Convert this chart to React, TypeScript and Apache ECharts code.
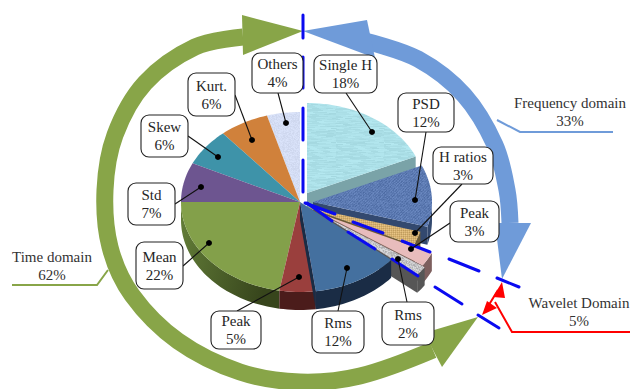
import React, { useEffect, useRef } from "react";
import * as echarts from "echarts";

// Feature shares, clockwise from twelve o'clock
const sliceNames = ["Single H", "PSD", "H ratios", "Peak", "Rms", "Rms", "Peak", "Mean", "Std", "Skew", "Kurt.", "Others"];
const sliceValues = [18, 12, 3, 3, 2, 12, 5, 22, 7, 6, 6, 4];

// Domain totals
const domainNames = ["Time domain", "Frequency domain", "Wavelet Domain"];
const domainValues = [62, 33, 5];

const W = 633;
const H = 389;
const CX = 300;
const CY = 202;
const RX = 119;
const RY = 90;
const DEPTH = 18;
const SERIF = "'Liberation Serif', 'Times New Roman', serif";

// Perspective of the tilted disc: value angle -> drawn angle
const warpIn = [0, 64.8, 108, 136.8, 198, 302, 360];
const warpOut = [0, 66, 106, 130, 190, 295, 360];

// Slice explode offsets
const sliceOffset: number[][] = [[7, -9], [13, 0], [6, 5], [24, 13], [26, 15], [0, 0], [0, 0], [0, 0], [0, 0], [0, 0], [0, 0], [0, 0]];
const sliceZ = [10, 11, 12, 13, 14, 26, 25, 24, 23, 22, 21, 20];
const wallColors = ["#7aa3a8", "#33496f", "#6d5a33", "#7d5f5e", "#565656", "#1a2c45", "#4b1c1b", "", "#4d3d69", "#2b6b7b", "#96602a", "#a9b2c6"];

type Texture = { base: number[]; kind: string; amp: number };
const hash = (x: number, y: number) => {
  const s = Math.sin(x * 12.9898 + y * 78.233) * 43758.5453;
  return s - Math.floor(s);
};
function makeTexture({ base, kind, amp }: Texture) {
  const size = 48;
  const c = document.createElement("canvas");
  c.width = size;
  c.height = size;
  const ctx = c.getContext("2d")!;
  const img = ctx.createImageData(size, size);
  for (let y = 0; y < size; y++) {
    for (let x = 0; x < size; x++) {
      let n = hash(x, y) - 0.5;
      if (kind === "water") n = hash(Math.floor((x + y * 5) / 7), y) - 0.5;
      if (kind === "weave") n = (x % 2 === 0 ? 0.3 : -0.2) + (y % 2 === 0 ? -0.3 : 0.2) + n * 0.3;
      if (kind === "denim") n = n * 0.7 + (((x + y) % 3) - 1) * 0.2;
      const p = (y * size + x) * 4;
      img.data[p] = base[0] + n * amp;
      img.data[p + 1] = base[1] + n * amp;
      img.data[p + 2] = base[2] + n * amp;
      img.data[p + 3] = 255;
    }
  }
  ctx.putImageData(img, 0, 0);
  return c;
}

const warp = (deg: number) => {
  for (let i = 1; i < warpIn.length; i++) {
    if (deg <= warpIn[i]) {
      const t = (deg - warpIn[i - 1]) / (warpIn[i] - warpIn[i - 1]);
      return warpOut[i - 1] + t * (warpOut[i] - warpOut[i - 1]);
    }
  }
  return 360;
};

const rim = (deg: number, ox: number, oy: number, dz = 0) => {
  const a = (deg * Math.PI) / 180;
  return [CX + ox + RX * Math.sin(a), CY + oy - RY * Math.cos(a) + dz];
};

const arcPoints = (from: number, to: number, ox: number, oy: number, dz = 0) => {
  const pts: number[][] = [];
  const steps = Math.max(2, Math.ceil((to - from) / 2));
  for (let k = 0; k <= steps; k++) pts.push(rim(from + ((to - from) * k) / steps, ox, oy, dz));
  return pts;
};

// Label boxes [x0, y0, x1, y1], dot on the slice, and where the leader meets the box
const boxes = [
  [314, 55, 377, 93], [398, 93, 454, 132], [433, 147, 493, 184], [450, 201, 499, 242], [382, 302, 434, 345], [312, 311, 364, 353],
  [211, 311, 261, 349], [136, 242, 183, 289], [128, 183, 175, 225], [141, 115, 188, 157], [188, 73, 235, 116], [252, 53, 303, 93],
];
const dots = [
  [372, 132], [415, 200], [415, 233], [411, 249], [398, 259], [347, 268], [299, 277], [209, 243], [201, 187], [218, 157], [252, 140], [286, 123],
];
const anchors = [
  [346, 93], [426, 132], [462, 184], [450, 223], [407, 302], [338, 311], [237, 311], [183, 266], [175, 204], [188, 136], [235, 95], [278, 93],
];

// Dashed domain boundaries, as [x0, y0, x1, y1]
const boundaryDashes = [
  [303, 15, 303, 38], [303, 57, 303, 88], [303, 108, 303, 140], [303, 160, 303, 192],
  [305, 203, 335, 214], [353, 222, 383, 233], [402, 241, 430, 252], [449, 259, 479, 271], [497, 278, 519, 287],
  [307, 203, 332, 221], [348, 232, 375, 249], [392, 259, 418, 276], [435, 287, 462, 304], [478, 315, 499, 328],
];

const greenArc = [[243, 37], [195, 47], [145, 83], [115, 135], [105, 190], [110, 247], [132, 295], [178, 341], [240, 372], [300, 382], [360, 376], [433, 350]];
const blueArc = [[365, 41], [418, 59], [464, 95], [495, 145], [507, 190], [510, 223]];
const greenHeads = [[[303, 31], [242, 15], [243, 55]], [[478, 317], [442, 367], [424, 333]]];
const blueHeads = [[[303, 31], [367, 20], [375, 58]], [[502, 279], [495, 223], [531, 223]]];

const GREEN = "#88a548";
const BLUE = "#6f9bd9";
const TEXT = "#262626";

export default function App() {
  const ref = useRef<HTMLDivElement>(null);
  useEffect(() => {
    const chart = echarts.init(ref.current!, null, { renderer: "svg" });

    const pattern = (t: Texture) => ({ image: makeTexture(t), repeat: "repeat" });
    const topFills: any[] = [
      pattern({ base: [172, 224, 232], kind: "water", amp: 16 }),
      pattern({ base: [92, 122, 178], kind: "denim", amp: 30 }),
      pattern({ base: [212, 176, 112], kind: "weave", amp: 34 }),
      "#e8bcbc",
      pattern({ base: [196, 196, 198], kind: "noise", amp: 50 }),
      "#44709f",
      "#9a3f3d",
      "#83a04a",
      "#6d5590",
      "#3e93a9",
      "#d0813b",
      pattern({ base: [212, 221, 244], kind: "noise", amp: 14 }),
    ];
    const mainWall = new echarts.graphic.LinearGradient(0, 0, 1, 0.3, [
      { offset: 0, color: "#647f39" },
      { offset: 1, color: "#37451c" },
    ]);

    const starts: number[] = [];
    let running = 0;
    sliceValues.forEach((v) => {
      starts.push(running);
      running += v;
    });

    const renderItem = (params: any, api: any) => {
      const i = params.dataIndex;
      const share = api.value(0);
      const start = warp((starts[i] / 100) * 360);
      const end = warp(((starts[i] + share) / 100) * 360);
      const [ox, oy] = sliceOffset[i];
      const z = sliceZ[i];
      const wall = i === 7 ? mainWall : wallColors[i];
      const children: any[] = [];
      const apex = [CX + ox, CY + oy];

      // Cut face on the clockwise edge, seen while the edge points at the viewer
      if (end > 0 && end < 180) {
        const e = rim(end, ox, oy);
        children.push({
          type: "polygon",
          z2: z,
          shape: { points: [apex, e, [e[0], e[1] + DEPTH], [apex[0], apex[1] + DEPTH]] },
          style: { fill: wallColors[i] },
        });
      }
      // Outer wall for the near half of the rim
      const a = Math.max(start, 90);
      const b = Math.min(end, 270);
      if (b > a) {
        const topEdge = arcPoints(a, b, ox, oy);
        const lowEdge = arcPoints(a, b, ox, oy, DEPTH).reverse();
        children.push({
          type: "polygon",
          z2: z,
          shape: { points: topEdge.concat(lowEdge) },
          style: { fill: wall },
        });
      }
      // Top face
      children.push({
        type: "polygon",
        z2: z + 0.5,
        shape: { points: [apex].concat(arcPoints(start, end, ox, oy)) },
        style: { fill: topFills[i] },
      });
      return { type: "group", children };
    };

    const line = (s: number[][], color: string, lineWidth: number, z: number) => ({
      type: "polyline",
      z,
      silent: true,
      shape: { points: s },
      style: { stroke: color, lineWidth, fill: "none" },
    });
    const poly = (pts: number[][], fill: string, z: number) => ({
      type: "polygon",
      z,
      silent: true,
      shape: { points: pts },
      style: { fill },
    });

    const elements: any[] = [];
    elements.push({
      type: "polyline", z: 1, silent: true,
      shape: { points: greenArc, smooth: 0.35 },
      style: { stroke: GREEN, lineWidth: 17, fill: "none" },
    });
    elements.push({
      type: "polyline", z: 1, silent: true,
      shape: { points: blueArc, smooth: 0.35 },
      style: { stroke: BLUE, lineWidth: 17, fill: "none" },
    });
    greenHeads.forEach((h) => elements.push(poly(h, GREEN, 1)));
    blueHeads.forEach((h) => elements.push(poly(h, BLUE, 1)));

    // Leaders from each domain caption to its arc
    elements.push(line([[108, 270], [97, 285], [12, 285]], GREEN, 2, 1));
    elements.push(line([[497, 120], [520, 132], [613, 132]], BLUE, 2, 1));
    elements.push(line([[495, 302], [512, 332], [630, 332]], "#ff0000", 2, 12));

    // Double-headed span of the wavelet share
    elements.push(line([[498, 290], [487, 308]], "#ff0000", 2, 12));
    elements.push(poly([[502, 282], [493, 297], [505, 298]], "#ff0000", 12));
    elements.push(poly([[482, 315], [487, 301], [497, 308]], "#ff0000", 12));

    boundaryDashes.forEach(([x0, y0, x1, y1]) =>
      elements.push({
        type: "line", z: 11, silent: true,
        shape: { x1: x0, y1: y0, x2: x1, y2: y1 },
        style: { stroke: "#0a0af0", lineWidth: 3, lineCap: "round" },
      })
    );

    // Label boxes with their leaders
    sliceNames.forEach((name, i) => {
      const [x0, y0, x1, y1] = boxes[i];
      elements.push(line([dots[i], anchors[i]], "#111111", 1.1, 13));
      elements.push({
        type: "circle", z: 13, silent: true,
        shape: { cx: dots[i][0], cy: dots[i][1], r: 3 },
        style: { fill: "#000000" },
      });
      elements.push({
        type: "rect", z: 14, silent: true,
        shape: { x: x0, y: y0, width: x1 - x0, height: y1 - y0, r: 8 },
        style: { fill: "#ffffff", stroke: "#222222", lineWidth: 1.1 },
      });
      elements.push({
        type: "text", z: 15, silent: true,
        x: (x0 + x1) / 2,
        y: (y0 + y1) / 2,
        style: {
          text: `${name}\n${sliceValues[i]}%`,
          fontFamily: SERIF,
          fontSize: 15,
          lineHeight: 18,
          fill: TEXT,
          align: "center",
          verticalAlign: "middle",
        },
      });
    });

    // Domain captions
    const captionAt = [[52, 266], [570, 112], [579, 312]];
    domainNames.forEach((name, i) => {
      elements.push({
        type: "text", z: 15, silent: true,
        x: captionAt[i][0],
        y: captionAt[i][1],
        style: {
          text: `${name}\n${domainValues[i]}%`,
          fontFamily: SERIF,
          fontSize: 15,
          lineHeight: 18,
          fill: "#333333",
          align: "center",
          verticalAlign: "middle",
        },
      });
    });

    chart.setOption({
      animation: false,
      backgroundColor: "#ffffff",
      graphic: { elements },
      series: [
        {
          type: "custom",
          coordinateSystem: "none",
          z: 5,
          silent: true,
          renderItem,
          data: sliceValues.map((v) => [v]),
        },
      ],
    });
    return () => chart.dispose();
  }, []);
  return <div ref={ref} style={{ position: "absolute", left: 0, top: 0, width: W, height: H }} />;
}
